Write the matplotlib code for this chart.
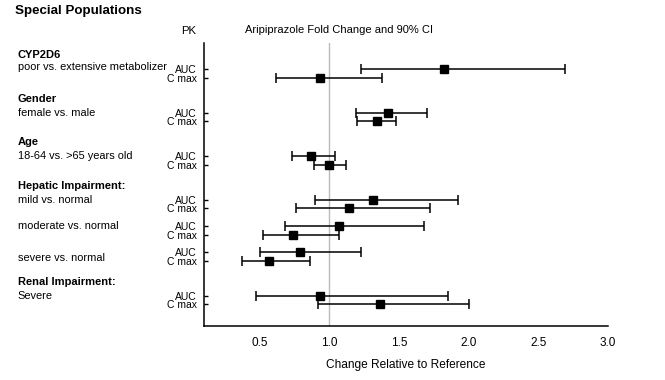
import numpy as np
import matplotlib
matplotlib.use('Agg')
import matplotlib.pyplot as plt
import matplotlib.transforms as mtransforms

plt.rcParams['font.family'] = ['Liberation Sans', 'DejaVu Sans']

# group headings and comparisons
headings = ['CYP2D6', 'Gender', 'Age', 'Hepatic Impairment:', None, None, 'Renal Impairment:']
comparisons = ['poor vs. extensive metabolizer', 'female vs. male', '18-64 vs. >65 years old',
               'mild vs. normal', 'moderate vs. normal', 'severe vs. normal', 'Severe']
pk_labels = ['AUC', 'C max']

# fold change point estimates and 90% CI (AUC, Cmax) per comparison
auc_est = [1.82, 1.42, 0.87, 1.31, 1.07, 0.79, 0.93]
auc_lo = [1.23, 1.19, 0.73, 0.90, 0.68, 0.50, 0.47]
auc_hi = [2.69, 1.70, 1.04, 1.92, 1.68, 1.23, 1.85]
cmax_est = [0.93, 1.34, 1.00, 1.14, 0.74, 0.57, 1.36]
cmax_lo = [0.62, 1.20, 0.89, 0.76, 0.52, 0.37, 0.92]
cmax_hi = [1.38, 1.48, 1.12, 1.72, 1.07, 0.86, 2.00]

# row layout: new group -> big gap, subgroup of same heading -> small gap
auc_y = []
y = -2
for h in headings:
    y += 5 if h is not None else 3
    auc_y.append(y)
auc_y = np.array(auc_y, dtype=float)
cmax_y = auc_y + 1

fig = plt.figure(figsize=(6.65, 3.8), dpi=100)
ax = fig.add_axes([0.3068, 0.1421, 0.6075, 0.7447])

ax.axvline(1.0, color='#bbbbbb', linewidth=1.0, zorder=1)

for est, lo, hi, yy in [(auc_est, auc_lo, auc_hi, auc_y), (cmax_est, cmax_lo, cmax_hi, cmax_y)]:
    est = np.array(est)
    err = [est - np.array(lo), np.array(hi) - est]
    ax.errorbar(est, yy, xerr=err, fmt='s', color='black', markersize=6,
                elinewidth=1.1, capsize=3.3, capthick=1.1, zorder=3)

ax.set_xlim(0.1, 3.0)
ax.set_ylim(32.5, 0)
ax.set_xticks([0.5, 1.0, 1.5, 2.0, 2.5, 3.0])
ax.set_xticklabels(['0.5', '1.0', '1.5', '2.0', '2.5', '3.0'], fontsize=8.5)
ax.tick_params(axis='x', length=0, pad=8)

yt = np.concatenate([auc_y, cmax_y])
ylab = [pk_labels[0]] * len(auc_y) + [pk_labels[1]] * len(cmax_y)
ax.set_yticks(yt)
ax.set_yticklabels(ylab, fontsize=7.5)
ax.tick_params(axis='y', direction='in', length=3, width=1, pad=5)

for s in ['top', 'right']:
    ax.spines[s].set_visible(False)
for s in ['left', 'bottom']:
    ax.spines[s].set_linewidth(1.1)

ax.set_xlabel('Change Relative to Reference', fontsize=8.6, labelpad=7)

trans = mtransforms.blended_transform_factory(fig.transFigure, ax.transData)
for i, (h, c) in enumerate(zip(headings, comparisons)):
    if h is not None:
        ax.text(0.027, auc_y[i] - 1.6, h, transform=trans, fontsize=8, fontweight='bold',
                va='center', ha='left')
    off = 0.7 if i == 5 else (-0.2 if i == 0 else 0)
    ax.text(0.027, auc_y[i] + off, c, transform=trans, fontsize=7.9, va='center', ha='left')

fig.text(0.022, 0.972, 'Special Populations', fontsize=9.6, fontweight='bold', va='center')
fig.text(0.283, 0.918, 'PK', fontsize=8.2, va='center', ha='center')
fig.text(0.51, 0.921, 'Aripiprazole Fold Change and 90% CI', fontsize=8, va='center', ha='center')

fig.savefig('out.png', dpi=100)
